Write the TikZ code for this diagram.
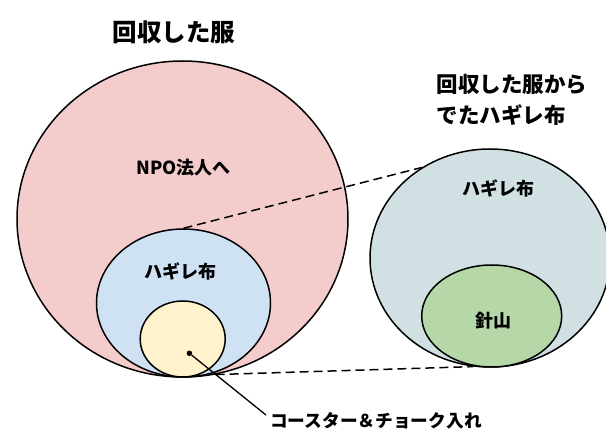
\documentclass[tikz,border=0pt]{standalone}
\usepackage{fontspec}
\setmainfont{Noto Sans CJK JP}
\usepackage{tikz}
\usetikzlibrary{shapes.geometric,positioning,calc}
\definecolor{pinkfill}{HTML}{F4CCCC}
\definecolor{bluefill}{HTML}{CFE2F3}
\definecolor{yellowfill}{HTML}{FFF2CC}
\definecolor{cyanfill}{HTML}{D0E0E3}
\definecolor{greenfill}{HTML}{B6D7A8}

\begin{document}
\begin{tikzpicture}[x=1pt,y=-1pt,% pixel coordinates, y grows downwards
			every node/.style={
				align=center,  		% "\\" breaks lines in the titles
				font=\bfseries
			},
			set/.style={ellipse,draw=black,line width=1.5pt,inner sep=0pt},
			label/.style={font=\fontsize{18}{20}\selectfont\bfseries},
			link/.style={draw,line width=1.5pt,dash pattern=on 9pt off 5pt}
		]
		\useasboundingbox (0,0) rectangle (606,446);
		% left group
		\node[set,fill=pinkfill,minimum width=331pt,minimum height=316pt](Clothes) at (182.5,219){};
		\node[set,fill=bluefill,minimum width=174pt,minimum height=148pt](Scraps) at (183.5,303){};
		\node[set,fill=yellowfill,minimum width=85pt,minimum height=76pt](Coaster) at (182.7,339){};
		% right group
		\node[set,fill=cyanfill,minimum width=240pt,minimum height=218pt](Right) at (490,258){};
		\node[set,fill=greenfill,minimum width=140pt,minimum height=102pt](Pins) at (491.7,316){};
		% titles
		\node[font=\fontsize{24.5}{26}\selectfont\bfseries](T1) at (174,32){回収した服};
		\node[font=\fontsize{21.5}{31}\selectfont\bfseries,align=left,anchor=west](T2) at (433,99.5){回収した服から\\でたハギレ布};
		% labels
		\node[label](L1) at (183.7,168){NPO法人へ};
		\node[label](L2) at (180,271){ハギレ布};
		\node[label](L3) at (498.6,188){ハギレ布};
		\node[label](L4) at (493,321){針山};
		\node[font=\fontsize{17.7}{20}\selectfont\bfseries,anchor=west,inner sep=0pt](L5) at (270,421){コースター＆チョーク入れ};
		\node[circle,fill=black,inner sep=0pt,minimum size=5.5pt](Dot) at (189.4,353.3){};
		\path
		(Scraps.north)edge [link] (Right.127.6)
		(Clothes.-78.3)edge [link] (Right.261)
		(Dot)edge [draw,line width=1.3pt] ($(L5.west)+(-4,-6)$)
		;
	\end{tikzpicture}
\end{document}
